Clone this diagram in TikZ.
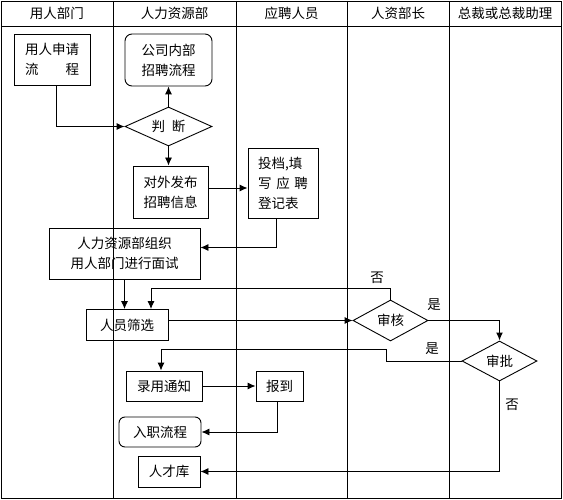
\documentclass[tikz,border=0pt]{standalone}
\usepackage{fontspec}
\setmainfont{Noto Sans CJK SC}
\usetikzlibrary{shapes.geometric}
\usetikzlibrary{arrows.meta}
\usetikzlibrary{calc}

\begin{document}
\begin{tikzpicture}[x=1pt, y=-1pt,
        font=\fontsize{13.5}{20}\selectfont,
        >={Latex[length=8pt,width=7pt]},
        lane/.style={line width=0.8pt},
        box/.style={draw, line width=0.9pt, inner sep=0pt, align=center},
        rbox/.style={box, rounded corners=7pt},
        decide/.style={draw, diamond, line width=0.9pt, inner sep=0pt, aspect=2},
        flow/.style={->, line width=0.9pt},
        lbl/.style={inner sep=1pt}]

        \useasboundingbox (0,0) rectangle (563,500);

        % Swim lanes
        \draw[lane] (1,1) rectangle (561,498);
        \draw[lane] (1,26) -- (561,26);
        \foreach \xx in {113,236,347,449}
            \draw[lane] (\xx,1) -- (\xx,498);

        % Lane titles
        \node (t1) at (57,13.5) {用人部门};
        \node (t2) at (174.5,13.5) {人力资源部};
        \node (t3) at (291.5,13.5) {应聘人员};
        \node (t4) at (398,13.5) {人资部长};
        \node (t5) at (505,13.5) {总裁或总裁助理};

        % Request and decision
        \node[box, minimum width=76, minimum height=51] (apply) at (52,59.5) {用人申请\\流\hspace{2em}程};
        \node[rbox, minimum width=87, minimum height=52] (internal) at (168.5,60) {公司内部\\招聘流程};
        \node[decide, minimum width=87, minimum height=39] (judge) at (168.5,126.5) {判\hspace{0.5em}断};
        \node[box, minimum width=75, minimum height=52] (publish) at (170.5,192) {对外发布\\招聘信息};
        \node[box, minimum width=70, minimum height=70, align=left] (submit) at (283,183) {投档,填\\写\hspace{0.35em}应\hspace{0.35em}聘\\登记表};

        % Interview and screening
        \node[box, minimum width=151, minimum height=51] (interview) at (124.5,253.5) {人力资源部组织\\用人部门进行面试};
        \node[box, minimum width=82, minimum height=31] (screen) at (127,325) {人员筛选};
        \node[decide, minimum width=75, minimum height=41] (review) at (390.5,320.5) {审核};
        \node[decide, minimum width=75, minimum height=40] (approve) at (499.5,361) {审批};

        % Hiring
        \node[box, minimum width=76, minimum height=30] (notice) at (164,386) {录用通知};
        \node[box, minimum width=47, minimum height=30] (report) at (279.5,386) {报到};
        \node[rbox, rounded corners=6pt, minimum width=82, minimum height=30] (onboard) at (160,432) {入职流程};
        \node[box, minimum width=62, minimum height=31] (talent) at (169,471.5) {人才库};

        % Connectors
        \draw[flow] ([xshift=4.5pt]apply.south) |- (judge.west);
        \draw[flow] (judge.north) -- (judge.north |- internal.south);
        \draw[flow] (judge.south) -- (judge.south |- publish.north);
        \draw[flow] ([yshift=4pt]publish.east) -- ([yshift=4pt]publish.east -| submit.west);
        \draw[flow] ([xshift=-7pt]submit.south) |- ([yshift=6pt]interview.east);
        \draw[flow] (interview.south) -- (interview.south |- screen.north);
        \draw[flow] (review.north) -- ++(0,-11) -| ([xshift=24pt]screen.north);
        \draw[flow] (review.west -| screen.east) -- (review.west);
        \draw[flow, line width=1.3pt] (review.east) -| (approve.north);
        \draw[flow] (approve.west) -- ++(-75,0) -- ++(0,-12) -| ([xshift=-3pt]notice.north);
        \draw[flow] (notice.east) -- (report.west);
        \draw[flow] ([xshift=-2.5pt]report.south) |- (onboard.east);
        \draw[flow] (approve.south) |- (talent.east);

        % Branch labels
        \node[lbl] (no1) at (377,278) {否};
        \node[lbl] (yes1) at (434,305) {是};
        \node[lbl] (yes2) at (432,349) {是};
        \node[lbl] (no2) at (512,405) {否};

\end{tikzpicture}
\end{document}
